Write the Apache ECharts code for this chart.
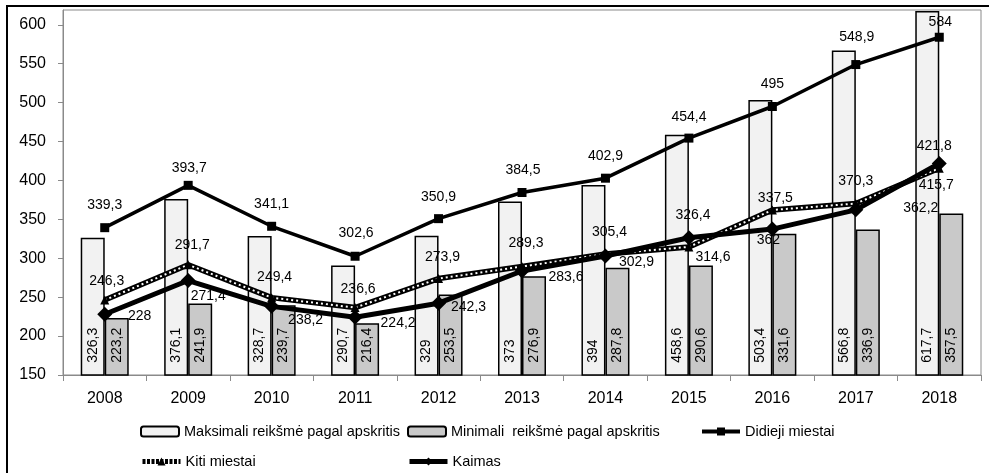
<!DOCTYPE html>
<html><head><meta charset="utf-8">
<script src="https://cdn.jsdelivr.net/npm/echarts@6/dist/echarts.min.js"></script>
<style>html,body{margin:0;padding:0;background:#fff}#c{width:989px;height:473px}</style>
</head><body><div id="c"></div>
<script>
const years = ['2008','2009','2010','2011','2012','2013','2014','2015','2016','2017','2018'];
const maxValues = [326.3, 376.1, 328.7, 290.7, 329, 373, 394, 458.6, 503.4, 566.8, 617.7];
const minValues = [223.2, 241.9, 239.7, 216.4, 253.5, 276.9, 287.8, 290.6, 331.6, 336.9, 357.5];
const didiejiValues = [339.3, 393.7, 341.1, 302.6, 350.9, 384.5, 402.9, 454.4, 495, 548.9, 584];
const kitiValues = [246.3, 291.7, 249.4, 236.6, 273.9, 289.3, 305.4, 314.6, 362, 370.3, 415.7];
const kaimasValues = [228, 271.4, 238.2, 224.2, 242.3, 283.6, 302.9, 326.4, 337.5, 362.2, 421.8];
const yTicks = [150, 200, 250, 300, 350, 400, 450, 500, 550, 600];

// label placement (style only, in pixels relative to the point)
const didiejiLabelOffsets = [[0,-23],[1,-17],[0,-22],[1,-23],[0,-22],[1,-22],[0,-22],[0,-21],[0,-22],[1,-27],[1,-15]];
const kitiLabelOffsets = [[2,-19],[4,-20],[3,-21],[3,-18],[4,-21],[4,-23],[4,-22],[24,10],[-4,30],[0,-22],[-3,17]];
const kaimasLabelOffsets = [[35,2],[20,16],[34,14],[43,6],[30,4],[44,6],[31,6],[4,-23],[3,-31],[65,-2],[-5,-17]];

const FONT = '"Liberation Sans", Arial, sans-serif';
const fmt = v => String(v).replace('.', ',');
const withLabels = (values, offsets) => values.map((v, i) => ({ value: v, label: { offset: offsets[i] } }));

const lineLabel = {
  show: true, position: 'inside', align: 'center', verticalAlign: 'middle',
  color: '#000', fontSize: 14, fontFamily: FONT,
  formatter: p => fmt(p.value)
};
const barLabel = {
  show: true, position: 'insideBottom', distance: 13, rotate: 90,
  align: 'left', verticalAlign: 'middle',
  color: '#000', fontSize: 14, fontFamily: FONT,
  formatter: p => fmt(p.value)
};
const legendItem = (item, left, top) => ({
  orient: 'horizontal', left: left, top: top, itemWidth: 38, itemHeight: 10, padding: 0,
  textStyle: { color: '#000', fontSize: 14.5, fontFamily: FONT },
  data: [item]
});

const chart = echarts.init(document.getElementById('c'), null, { renderer: 'canvas' });
chart.setOption({
  animation: false,
  backgroundColor: '#fff',
  grid: { left: 63, right: 8, top: 10, bottom: 98, show: true, borderColor: '#8a8a8a', borderWidth: 1 },
  xAxis: {
    type: 'category', data: years,
    axisLine: { lineStyle: { color: '#8a8a8a', width: 1 } },
    axisTick: { show: true, length: 6, lineStyle: { color: '#8a8a8a' } },
    axisLabel: { color: '#000', fontSize: 16, fontFamily: FONT, margin: 16 },
    splitLine: { show: false }
  },
  yAxis: {
    type: 'value', min: 150, max: 619, interval: 50,
    axisLine: { show: true, lineStyle: { color: '#8a8a8a', width: 1 } },
    axisTick: { show: true, length: 5, customValues: yTicks, lineStyle: { color: '#8a8a8a' } },
    axisLabel: { color: '#000', fontSize: 16, fontFamily: FONT, margin: 17, customValues: yTicks },
    splitLine: { show: false }
  },
  legend: [
    legendItem('Maksimali reikšmė pagal apskritis', 140, 424),
    legendItem('Minimali  reikšmė pagal apskritis', 407, 424),
    legendItem({ name: 'Didieji miestai', lineStyle: { width: 4 } }, 700, 424),
    legendItem({ name: 'Kiti miestai', lineStyle: { width: 5, type: [3, 1.5] } }, 140, 454),
    legendItem({ name: 'Kaimas', lineStyle: { width: 5 } }, 407, 454)
  ],
  graphic: [{
    type: 'polyline', silent: true,
    shape: { points: [[7, 473], [7, 6], [989, 6]] },
    style: { stroke: '#000', lineWidth: 2, fill: null }
  }],
  series: [
    {
      name: 'Maksimali reikšmė pagal apskritis', type: 'bar', data: maxValues,
      barWidth: 24, barGap: '0%',
      itemStyle: { color: '#f2f2f2', borderColor: '#000', borderWidth: 1.5 },
      label: barLabel
    },
    {
      name: 'Minimali  reikšmė pagal apskritis', type: 'bar', data: minValues,
      barWidth: 24, barGap: '0%',
      itemStyle: { color: '#c9c9c9', borderColor: '#000', borderWidth: 1.5 },
      label: barLabel
    },
    {
      name: 'Didieji miestai', type: 'line', data: withLabels(didiejiValues, didiejiLabelOffsets),
      symbol: 'rect', symbolSize: 9, showAllSymbol: true,
      lineStyle: { color: '#000', width: 3.5 },
      itemStyle: { color: '#000' },
      label: lineLabel, z: 3
    },
    {
      name: 'Kiti miestai', type: 'line', data: withLabels(kitiValues, kitiLabelOffsets),
      symbol: 'triangle', symbolSize: 9, showAllSymbol: true,
      lineStyle: { color: '#000', width: 5.5 },
      itemStyle: { color: '#000' },
      label: lineLabel, z: 4
    },
    {
      name: 'Kiti miestai (taškai)', type: 'line', data: kitiValues,
      symbol: 'none', silent: true,
      lineStyle: { color: '#fff', width: 2, type: [2, 3] },
      z: 4
    },
    {
      name: 'Kaimas', type: 'line', data: withLabels(kaimasValues, kaimasLabelOffsets),
      symbol: 'diamond', symbolSize: 15, showAllSymbol: true,
      lineStyle: { color: '#000', width: 5 },
      itemStyle: { color: '#000' },
      label: lineLabel, z: 5
    }
  ]
});
</script>
</body></html>
